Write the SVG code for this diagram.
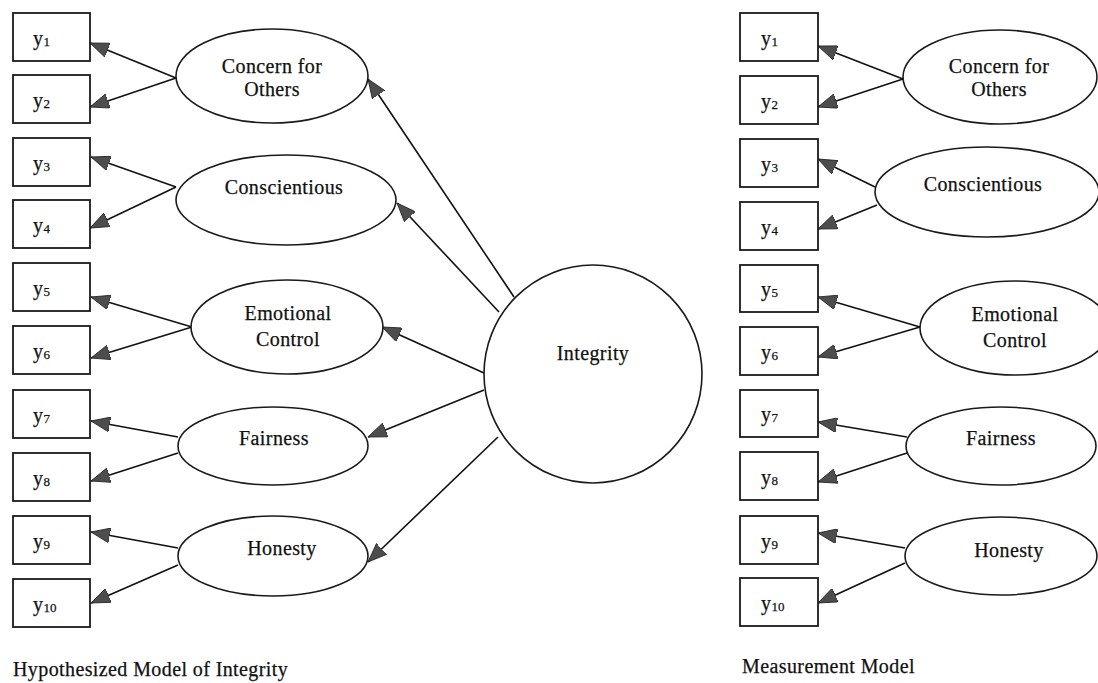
<svg xmlns="http://www.w3.org/2000/svg" width="1098" height="683" viewBox="0 0 1098 683">
<defs>
<style>
.box{fill:#fff;stroke:#1a1a1a;stroke-width:1.8}
.lat{fill:#fff;stroke:#1a1a1a;stroke-width:1.6}
.lbl{font-family:"Liberation Serif","Times New Roman",serif;font-size:20px;fill:#111;stroke:#111;stroke-width:0.25;letter-spacing:0.4px}
.mid{text-anchor:middle}
.sub{font-size:13px;letter-spacing:0}
.edge{stroke:#111;stroke-width:1.6;fill:none;marker-end:url(#ah)}
</style>
<marker id="ah" viewBox="0 0 19 15" refX="19" refY="7.5" markerWidth="19" markerHeight="15" markerUnits="userSpaceOnUse" orient="auto">
<path d="M0,0 L19,7.5 L0,15 z" fill="#4d4d4d" stroke="#222" stroke-width="0.8"/>
</marker>
</defs>
<rect width="1098" height="683" fill="#fff"/>

<g id="connectors">
<line class="edge" x1="176" y1="78" x2="90" y2="43"/>
<line class="edge" x1="176" y1="78" x2="90" y2="107"/>
<line class="edge" x1="176" y1="187" x2="91" y2="157"/>
<line class="edge" x1="176" y1="187" x2="90" y2="228"/>
<line class="edge" x1="192" y1="327" x2="91" y2="297"/>
<line class="edge" x1="192" y1="327" x2="91" y2="358"/>
<line class="edge" x1="178" y1="437" x2="91" y2="421"/>
<line class="edge" x1="178" y1="453" x2="91" y2="481"/>
<line class="edge" x1="178" y1="548" x2="91" y2="532"/>
<line class="edge" x1="178" y1="565" x2="91" y2="603"/>
<line class="edge" x1="514" y1="297" x2="368" y2="79"/>
<line class="edge" x1="499" y1="312" x2="397" y2="203"/>
<line class="edge" x1="484" y1="373" x2="382" y2="327"/>
<line class="edge" x1="484" y1="390" x2="368" y2="437"/>
<line class="edge" x1="498" y1="437" x2="368" y2="562"/>
<line class="edge" x1="903" y1="79" x2="818" y2="46"/>
<line class="edge" x1="903" y1="79" x2="818" y2="107"/>
<line class="edge" x1="875" y1="187" x2="818" y2="159"/>
<line class="edge" x1="877" y1="205" x2="818" y2="229"/>
<line class="edge" x1="920" y1="327" x2="818" y2="297"/>
<line class="edge" x1="920" y1="327" x2="818" y2="357"/>
<line class="edge" x1="907" y1="437" x2="818" y2="422"/>
<line class="edge" x1="907" y1="453" x2="818" y2="482"/>
<line class="edge" x1="905" y1="548" x2="818" y2="533"/>
<line class="edge" x1="905" y1="563" x2="818" y2="603"/>
</g>

<g id="L-y1"><rect class="box" x="13" y="13" width="77" height="48"/><text class="lbl" x="33" y="45">y<tspan class="sub" dy="1">1</tspan></text></g>
<g id="L-y2"><rect class="box" x="13" y="75" width="77" height="48"/><text class="lbl" x="33" y="107">y<tspan class="sub" dy="1">2</tspan></text></g>
<g id="L-y3"><rect class="box" x="13" y="138" width="77" height="48"/><text class="lbl" x="33" y="170">y<tspan class="sub" dy="1">3</tspan></text></g>
<g id="L-y4"><rect class="box" x="13" y="200" width="77" height="48"/><text class="lbl" x="33" y="232">y<tspan class="sub" dy="1">4</tspan></text></g>
<g id="L-y5"><rect class="box" x="13" y="263" width="77" height="48"/><text class="lbl" x="33" y="295">y<tspan class="sub" dy="1">5</tspan></text></g>
<g id="L-y6"><rect class="box" x="13" y="326" width="77" height="48"/><text class="lbl" x="33" y="358">y<tspan class="sub" dy="1">6</tspan></text></g>
<g id="L-y7"><rect class="box" x="13" y="390" width="77" height="48"/><text class="lbl" x="33" y="422">y<tspan class="sub" dy="1">7</tspan></text></g>
<g id="L-y8"><rect class="box" x="13" y="453" width="77" height="48"/><text class="lbl" x="33" y="485">y<tspan class="sub" dy="1">8</tspan></text></g>
<g id="L-y9"><rect class="box" x="13" y="516" width="77" height="48"/><text class="lbl" x="33" y="548">y<tspan class="sub" dy="1">9</tspan></text></g>
<g id="L-y10"><rect class="box" x="13" y="579" width="77" height="48"/><text class="lbl" x="33" y="611">y<tspan class="sub" dy="1">10</tspan></text></g>

<g id="L-concern"><ellipse class="lat" cx="272" cy="76" rx="96" ry="47"/><text class="lbl mid" x="272" y="73">Concern for</text><text class="lbl mid" x="272" y="96">Others</text></g>
<g id="L-conscientious"><ellipse class="lat" cx="286" cy="200" rx="110" ry="45"/><text class="lbl mid" x="284" y="194">Conscientious</text></g>
<g id="L-emotional"><ellipse class="lat" cx="287" cy="327" rx="96" ry="47"/><text class="lbl mid" x="288" y="320">Emotional</text><text class="lbl mid" x="288" y="346">Control</text></g>
<g id="L-fairness"><ellipse class="lat" cx="273" cy="446" rx="95" ry="39"/><text class="lbl mid" x="274" y="445">Fairness</text></g>
<g id="L-honesty"><ellipse class="lat" cx="273" cy="556" rx="95" ry="40"/><text class="lbl mid" x="282" y="555">Honesty</text></g>

<g id="integrity"><circle class="lat" cx="593" cy="374" r="109"/><text class="lbl mid" x="593" y="360">Integrity</text></g>

<g id="R-y1"><rect class="box" x="740" y="13" width="78" height="48"/><text class="lbl" x="761" y="45">y<tspan class="sub" dy="1">1</tspan></text></g>
<g id="R-y2"><rect class="box" x="740" y="76" width="78" height="48"/><text class="lbl" x="761" y="108">y<tspan class="sub" dy="1">2</tspan></text></g>
<g id="R-y3"><rect class="box" x="740" y="139" width="78" height="48"/><text class="lbl" x="761" y="171">y<tspan class="sub" dy="1">3</tspan></text></g>
<g id="R-y4"><rect class="box" x="740" y="202" width="78" height="48"/><text class="lbl" x="761" y="234">y<tspan class="sub" dy="1">4</tspan></text></g>
<g id="R-y5"><rect class="box" x="740" y="265" width="78" height="47"/><text class="lbl" x="761" y="296">y<tspan class="sub" dy="1">5</tspan></text></g>
<g id="R-y6"><rect class="box" x="740" y="327" width="78" height="48"/><text class="lbl" x="761" y="359">y<tspan class="sub" dy="1">6</tspan></text></g>
<g id="R-y7"><rect class="box" x="740" y="390" width="78" height="47"/><text class="lbl" x="761" y="421">y<tspan class="sub" dy="1">7</tspan></text></g>
<g id="R-y8"><rect class="box" x="740" y="452" width="78" height="48"/><text class="lbl" x="761" y="484">y<tspan class="sub" dy="1">8</tspan></text></g>
<g id="R-y9"><rect class="box" x="740" y="516" width="78" height="48"/><text class="lbl" x="761" y="548">y<tspan class="sub" dy="1">9</tspan></text></g>
<g id="R-y10"><rect class="box" x="740" y="578" width="78" height="48"/><text class="lbl" x="761" y="610">y<tspan class="sub" dy="1">10</tspan></text></g>

<g id="R-concern"><ellipse class="lat" cx="1000" cy="77" rx="97" ry="47"/><text class="lbl mid" x="999" y="73">Concern for</text><text class="lbl mid" x="999" y="96">Others</text></g>
<g id="R-conscientious"><ellipse class="lat" cx="987" cy="192" rx="112" ry="45"/><text class="lbl mid" x="983" y="191">Conscientious</text></g>
<g id="R-emotional"><ellipse class="lat" cx="1015" cy="328" rx="95" ry="47"/><text class="lbl mid" x="1015" y="321">Emotional</text><text class="lbl mid" x="1015" y="347">Control</text></g>
<g id="R-fairness"><ellipse class="lat" cx="1001" cy="446" rx="95" ry="39"/><text class="lbl mid" x="1001" y="445">Fairness</text></g>
<g id="R-honesty"><ellipse class="lat" cx="1001" cy="556" rx="96" ry="39"/><text class="lbl mid" x="1009" y="557">Honesty</text></g>

<g id="captions">
<text class="lbl" x="13" y="676">Hypothesized Model of Integrity</text>
<text class="lbl" x="742" y="673">Measurement Model</text>
</g>
</svg>
